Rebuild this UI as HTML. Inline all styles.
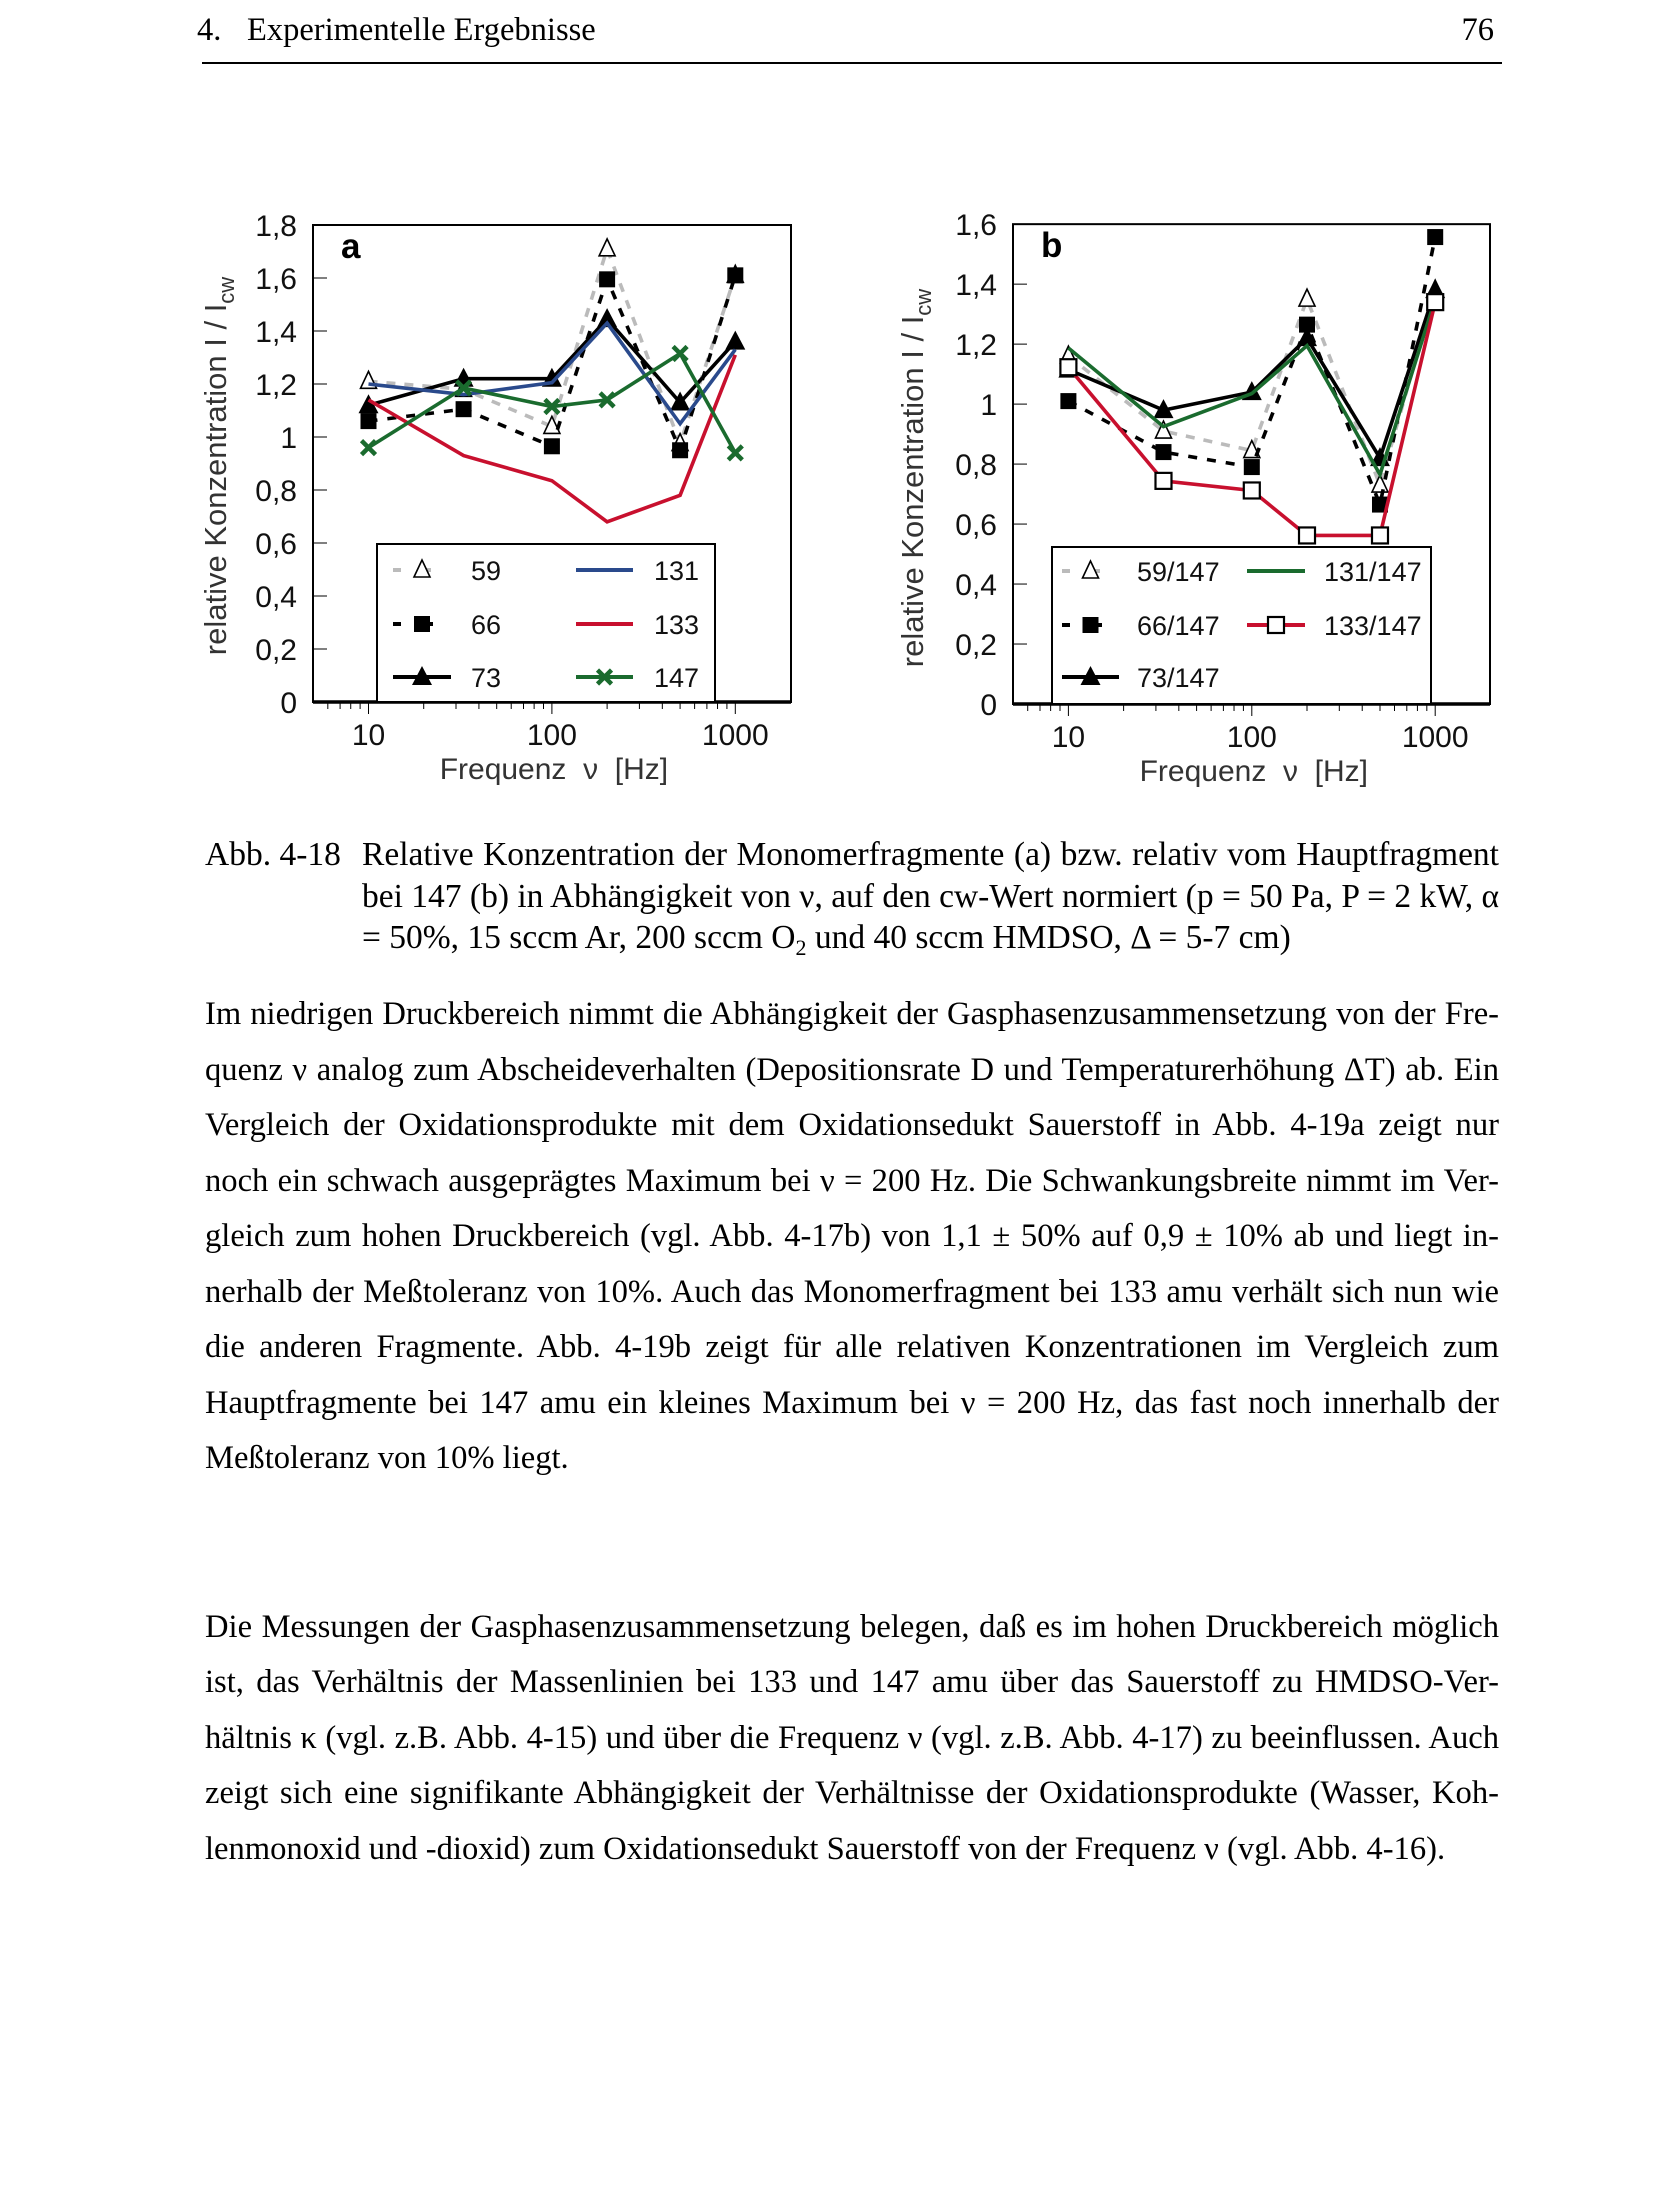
<!DOCTYPE html>
<html><head><meta charset="utf-8">
<style>
html,body{margin:0;padding:0;background:#fff;}
body{width:1653px;height:2200px;position:relative;overflow:hidden;font-family:"Liberation Serif",serif;color:#000;}
.abs{position:absolute;}
.ln{position:absolute;left:205px;width:1294px;font-size:32.6px;white-space:nowrap;text-align:justify;text-align-last:justify;}
.ln.last{text-align-last:left;}
.cap{position:absolute;left:362px;width:1137px;font-size:33.5px;white-space:nowrap;text-align:justify;text-align-last:justify;}
sub{font-size:22px;vertical-align:-7px;line-height:0;}
svg text{font-family:"Liberation Sans",sans-serif;}
</style></head><body>
<div class="abs" style="left:197px;top:12px;font-size:32.5px;">4.</div>
<div class="abs" style="left:247px;top:12px;font-size:32.5px;">Experimentelle Ergebnisse</div>
<div class="abs" style="left:1400px;width:94px;text-align:right;top:12px;font-size:32.5px;">76</div>
<div class="abs" style="left:202px;top:62px;width:1300px;height:2px;background:#000;"></div>

<svg class="abs" style="left:0;top:0" width="1653" height="800" id="fig"></svg>

<div class="abs" style="left:205px;top:836px;font-size:33.5px;">Abb. 4-18</div>
<div class="cap" style="top:836px;">Relative Konzentration der Monomerfragmente (a) bzw. relativ vom Hauptfragment</div>
<div class="cap" style="top:878px;">bei 147 (b) in Abhängigkeit von ν, auf den cw-Wert normiert (p = 50 Pa, P = 2 kW, α</div>
<div class="cap" style="top:919px;text-align-last:left;">= 50%, 15 sccm Ar, 200 sccm O<sub>2</sub> und 40 sccm HMDSO, Δ = 5-7 cm)</div>

<div>
<div class="ln" style="top:996px">Im niedrigen Druckbereich nimmt die Abhängigkeit der Gasphasenzusammensetzung von der Fre-</div>
<div class="ln" style="top:1052px">quenz ν analog zum Abscheideverhalten (Depositionsrate D und Temperaturerhöhung ΔT) ab. Ein</div>
<div class="ln" style="top:1107px">Vergleich der Oxidationsprodukte mit dem Oxidationsedukt Sauerstoff in Abb. 4-19a zeigt nur</div>
<div class="ln" style="top:1163px">noch ein schwach ausgeprägtes Maximum bei ν = 200 Hz. Die Schwankungsbreite nimmt im Ver-</div>
<div class="ln" style="top:1218px">gleich zum hohen Druckbereich (vgl. Abb. 4-17b) von 1,1 ± 50% auf 0,9 ± 10% ab und liegt in-</div>
<div class="ln" style="top:1274px">nerhalb der Meßtoleranz von 10%. Auch das Monomerfragment bei 133 amu verhält sich nun wie</div>
<div class="ln" style="top:1329px">die anderen Fragmente. Abb. 4-19b zeigt für alle relativen Konzentrationen im Vergleich zum</div>
<div class="ln" style="top:1385px">Hauptfragmente bei 147 amu ein kleines Maximum bei ν = 200 Hz, das fast noch innerhalb der</div>
<div class="ln last" style="top:1440px">Meßtoleranz von 10% liegt.</div>
</div>
<div>
<div class="ln" style="top:1609px">Die Messungen der Gasphasenzusammensetzung belegen, daß es im hohen Druckbereich möglich</div>
<div class="ln" style="top:1664px">ist, das Verhältnis der Massenlinien bei 133 und 147 amu über das Sauerstoff zu HMDSO-Ver-</div>
<div class="ln" style="top:1720px">hältnis κ (vgl. z.B. Abb. 4-15) und über die Frequenz ν (vgl. z.B. Abb. 4-17) zu beeinflussen. Auch</div>
<div class="ln" style="top:1775px">zeigt sich eine signifikante Abhängigkeit der Verhältnisse der Oxidationsprodukte (Wasser, Koh-</div>
<div class="ln last" style="top:1831px">lenmonoxid und -dioxid) zum Oxidationsedukt Sauerstoff von der Frequenz ν (vgl. Abb. 4-16).</div>
</div>

<script>
const freqs = [10, 33, 100, 200, 500, 1000];
const a59 = [1.21, 1.18, 1.04, 1.71, 0.975, 1.61];
const a66 = [1.06, 1.105, 0.965, 1.595, 0.95, 1.61];
const a73 = [1.12, 1.22, 1.22, 1.445, 1.13, 1.36];
const a131 = [1.20, 1.16, 1.205, 1.43, 1.05, 1.33];
const a133 = [1.14, 0.93, 0.835, 0.68, 0.78, 1.31];
const a147 = [0.96, 1.185, 1.115, 1.14, 1.315, 0.94];
const b59 = [1.16, 0.91, 0.845, 1.35, 0.73, 1.38];
const b66 = [1.01, 0.84, 0.79, 1.265, 0.665, 1.557];
const b73 = [1.115, 0.98, 1.04, 1.22, 0.82, 1.38];
const b131 = [1.187, 0.925, 1.035, 1.195, 0.765, 1.35];
const b133 = [1.123, 0.744, 0.712, 0.562, 0.562, 1.34];
const aTicks = [0, 0.2, 0.4, 0.6, 0.8, 1, 1.2, 1.4, 1.6, 1.8];
const bTicks = [0, 0.2, 0.4, 0.6, 0.8, 1, 1.2, 1.4, 1.6];
const xTicks = [10, 100, 1000];
const minorTicks = [6,7,8,9,20,30,40,50,60,70,80,90,200,300,400,500,600,700,800,900];

const NS = 'http://www.w3.org/2000/svg';
const svg = document.getElementById('fig');
function mk(tag, attrs, parent) {
  const e = document.createElementNS(NS, tag);
  for (const k in attrs) e.setAttribute(k, attrs[k]);
  (parent || svg).appendChild(e);
  return e;
}
function fmt(v){ return String(+v.toFixed(1)).replace('.', ','); }

function chart(cfg) {
  const g = mk('g', {});
  
  
  const X = f => cfg.x10 + (Math.log10(f) - 1) * 183.4;
  const Y = v => cfg.y0 - v * cfg.py;
  const top = Y(cfg.ymax);
  const box = mk('rect', {x: cfg.left, y: top, width: cfg.right - cfg.left, height: cfg.y0 - top, fill: 'none', stroke: '#000', 'stroke-width': 2}, g);
  
  
  mk('line', {x1: cfg.left, x2: cfg.right, y1: cfg.y0, y2: cfg.y0, stroke: '#000', 'stroke-width': 3.5}, g);
  cfg.yticks.forEach(v => {
    const y = Y(v);
    if (v > 0 && v < cfg.ymax) mk('line', {x1: cfg.left, x2: cfg.left + 14, y1: y, y2: y, stroke: '#000', 'stroke-width': 1}, g);
    const t = mk('text', {x: cfg.left - 16, y: y + 11, 'text-anchor': 'end', 'font-size': 30, fill: '#111'}, g);
    t.textContent = fmt(v);
    
    
  });
  minorTicks.forEach(f => mk('line', {x1: X(f), x2: X(f), y1: cfg.y0, y2: cfg.y0 + 7, stroke: '#000', 'stroke-width': 1}, g));
  xTicks.forEach(f => {
    mk('line', {x1: X(f), x2: X(f), y1: cfg.y0, y2: cfg.y0 + 12, stroke: '#000', 'stroke-width': 1}, g);
    const t = mk('text', {x: X(f), y: cfg.y0 + 43, 'text-anchor': 'middle', 'font-size': 30, fill: '#111'}, g);
    t.textContent = f;
    
    
  });
  const xt = mk('text', {x: (X(10) + X(1000)) / 2 + 2, y: cfg.y0 + 77, 'text-anchor': 'middle', 'font-size': 30, fill: '#333'}, g);
  xt.textContent = 'Frequenz\u00a0\u00a0ν\u00a0\u00a0[Hz]';
  
  
  const yt = mk('text', {x: 0, y: 0, 'text-anchor': 'middle', 'font-size': 31, fill: '#333', transform: `translate(${cfg.ylabX},${cfg.ylabY}) rotate(-90)`}, g);
  yt.innerHTML = 'relative Konzentration I / I<tspan font-size="22" dy="8">cw</tspan>';
  
  
  const pl = mk('text', {x: cfg.left + 28, y: top + 33, 'font-size': 35, 'font-weight': 'bold'}, g);
  pl.textContent = cfg.letter;
  
  
  cfg.series.forEach(s => {
    const sg = mk('g', {}, g);
    
    
    const pts = s.data.map((v, i) => X(freqs[i]) + ',' + Y(v)).join(' ');
    mk('polyline', {points: pts, fill: 'none', stroke: s.color, 'stroke-width': 3.6, 'stroke-dasharray': s.dash || 'none', 'stroke-linejoin': 'miter'}, sg);
    s.data.forEach((v, i) => marker(sg, s.marker, X(freqs[i]), Y(v)));
  });
  const lg = mk('g', {}, g);
  
  
  mk('rect', {x: cfg.leg.x, y: cfg.leg.y, width: cfg.leg.w, height: cfg.y0 - cfg.leg.y, fill: '#fff', stroke: '#000', 'stroke-width': 2}, lg);
  cfg.series.forEach((s, i) => {
    const col = cfg.leg.cols[s.col], y = cfg.leg.rows[s.row];
    const e = mk('g', {}, lg);
    
    
    mk('line', {x1: col[0], x2: col[1], y1: y, y2: y, stroke: s.color, 'stroke-width': 4, 'stroke-dasharray': s.dash ? s.legDash : 'none'}, e);
    marker(e, s.marker, (col[0] + col[1]) / 2, y);
    const t = mk('text', {x: col[2], y: y + 10, 'font-size': 27, fill: '#111'}, e);
    t.textContent = s.label;
  });
}
function marker(g, m, x, y) {
  if (m === 'tri-open') mk('polygon', {points: `${x},${y-10} ${x-8},${y+7} ${x+8},${y+7}`, fill: '#fff', stroke: '#000', 'stroke-width': 1.6}, g);
  else if (m === 'tri') mk('polygon', {points: `${x},${y-11} ${x-10},${y+8} ${x+10},${y+8}`, fill: '#000'}, g);
  else if (m === 'sq') mk('rect', {x: x-8, y: y-8, width: 16, height: 16, fill: '#000'}, g);
  else if (m === 'sq-open') mk('rect', {x: x-8, y: y-8, width: 16, height: 16, fill: '#fff', stroke: '#000', 'stroke-width': 2.2}, g);
  else if (m === 'x') { mk('path', {d: `M${x-7},${y-7}L${x+7},${y+7}M${x+7},${y-7}L${x-7},${y+7}`, stroke: '#1a6b2e', 'stroke-width': 4.5}, g); }
}
chart({name: 'chart-a', letter: 'a', x10: 368.5, y0: 702, py: 265, ymax: 1.8, left: 313, right: 791, yticks: aTicks,
  ylabX: 226, ylabY: 466,
  leg: {x: 377, y: 544, w: 338, rows: [570, 624, 677], cols: [[393, 451, 471], [576, 633, 654]]},
  series: [
    {label: '59', data: a59, color: '#bbb', dash: '9 9', legDash: '8 22', marker: 'tri-open', col: 0, row: 0},
    {label: '66', data: a66, color: '#000', dash: '9 10', legDash: '8 24', marker: 'sq', col: 0, row: 1},
    {label: '73', data: a73, color: '#000', marker: 'tri', col: 0, row: 2},
    {label: '131', data: a131, color: '#2a4a8c', marker: 'none', col: 1, row: 0},
    {label: '133', data: a133, color: '#c8102e', marker: 'none', col: 1, row: 1},
    {label: '147', data: a147, color: '#1a6b2e', marker: 'x', col: 1, row: 2}
  ]});
chart({name: 'chart-b', letter: 'b', x10: 1068.4, y0: 704, py: 299.9, ymax: 1.6, left: 1013, right: 1490, yticks: bTicks,
  ylabX: 923, ylabY: 478,
  leg: {x: 1052, y: 547, w: 379, rows: [571, 625, 677], cols: [[1062, 1119, 1137], [1247, 1305, 1324]]},
  series: [
    {label: '59/147', data: b59, color: '#bbb', dash: '9 9', legDash: '8 22', marker: 'tri-open', col: 0, row: 0},
    {label: '66/147', data: b66, color: '#000', dash: '9 10', legDash: '8 24', marker: 'sq', col: 0, row: 1},
    {label: '73/147', data: b73, color: '#000', marker: 'tri', col: 0, row: 2},
    {label: '131/147', data: b131, color: '#1a6b2e', marker: 'none', col: 1, row: 0},
    {label: '133/147', data: b133, color: '#c8102e', marker: 'sq-open', col: 1, row: 1}
  ]});
</script>
</body></html>
